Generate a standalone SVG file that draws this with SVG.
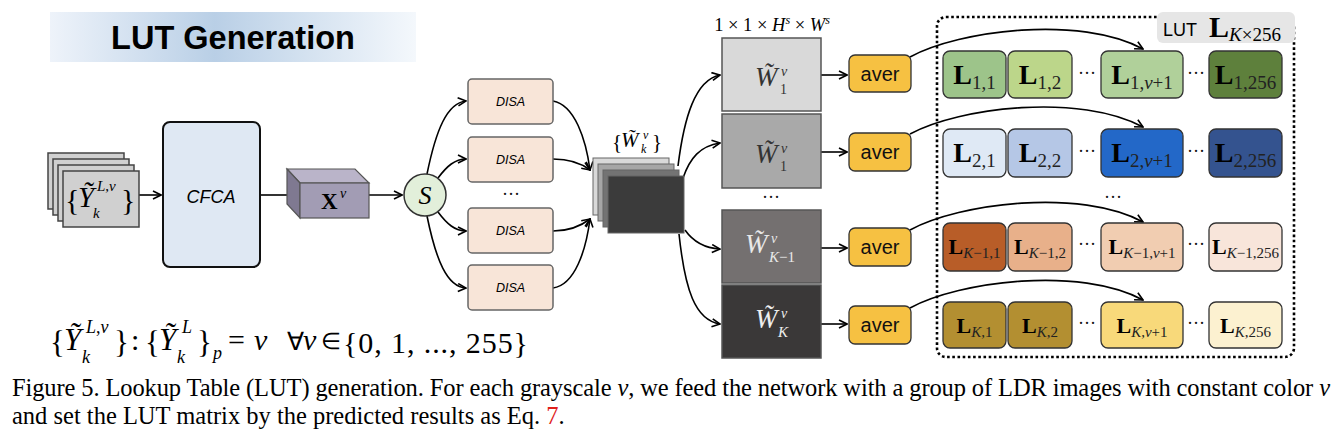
<svg xmlns="http://www.w3.org/2000/svg" width="1342" height="432" viewBox="0 0 1342 432">
<defs>
<linearGradient id="banner" x1="0" y1="0" x2="1" y2="0">
<stop offset="0" stop-color="#eef3fa"/>
<stop offset="0.45" stop-color="#b9cfe6"/>
<stop offset="1" stop-color="#f4f8fc"/>
</linearGradient>
<marker id="ah" viewBox="0 0 10 10" refX="9" refY="5" markerWidth="10" markerHeight="10" markerUnits="userSpaceOnUse" orient="auto">
<path d="M1,1 L9,5 L1,9" fill="none" stroke="#000" stroke-width="1.6"/>
</marker>
<style>
.sans{font-family:"Liberation Sans",Arial,sans-serif}
.ser{font-family:"Liberation Serif","Times New Roman",serif}
.it{font-style:italic}
.con{fill:none;stroke:#000;stroke-width:1.6}
.arr{marker-end:url(#ah)}
.disa{fill:#f8e5d8;stroke:#666;stroke-width:1.5}
.disat{font-family:"Liberation Sans",Arial,sans-serif;font-style:italic;font-size:12.5px;text-anchor:middle}
.wbox{stroke:#555;stroke-width:1.5}
.aver{fill:#f6c142;stroke:#333;stroke-width:1.3}
.avert{font-family:"Liberation Sans",Arial,sans-serif;font-size:20px;text-anchor:middle;fill:#111}
.cell{stroke:#333;stroke-width:1.3}
.lt{font-family:"Liberation Serif","Times New Roman",serif;text-anchor:middle;fill:#000}
.lb{font-weight:bold;font-size:28px}
.ls{font-size:19px;fill:#222}
.lb2{font-weight:bold;font-size:22px}
.ls2{font-size:15px;fill:#222}
.dots{font-family:"Liberation Serif",serif;font-size:18px;text-anchor:middle;fill:#111}
.stk{stroke:#444;stroke-width:1.5;fill:#d0d0d0}
.ws{stroke:#666;stroke-width:1}
</style>
</defs>
<rect width="1342" height="432" fill="#fff"/>

<g id="title">
<rect x="50" y="12" width="366" height="50" fill="url(#banner)"/>
<text x="233" y="49" class="sans" font-size="32.5" font-weight="bold" text-anchor="middle" fill="#000">LUT Generation</text>
</g>

<g id="connectors">
<path class="con arr" d="M139,195 H161"/>
<path class="con" d="M260,195 H292"/>
<path class="con arr" d="M369,195 H402"/>
<path class="con arr" d="M427,174 C436,130 447,103 466,101"/>
<path class="con arr" d="M438,178 C447,166 455,159 466,159"/>
<path class="con arr" d="M438,212 C447,224 455,231 466,231"/>
<path class="con arr" d="M427,216 C436,260 447,287 466,288"/>
<path class="con arr" d="M553,101 C575,105 586,140 590,170"/>
<path class="con arr" d="M553,159 C570,159 581,163 590,170"/>
<path class="con arr" d="M553,231 C570,231 581,226 590,219"/>
<path class="con arr" d="M553,288 C575,285 586,250 590,219"/>
<path class="con arr" d="M678,166 C684,118 695,80 720,75"/>
<path class="con arr" d="M683,178 C690,158 700,146 720,143"/>
<path class="con arr" d="M685,230 C692,240 702,248 720,249"/>
<path class="con arr" d="M679,234 C685,290 695,320 720,324"/>
<path class="con arr" d="M821,75 H847"/>
<path class="con arr" d="M821,152 H847"/>
<path class="con arr" d="M821,248 H847"/>
<path class="con arr" d="M821,324 H847"/>
<path class="con arr" d="M910,57 C960,30 1080,15 1143,49"/>
<path class="con arr" d="M910,134 C960,107 1080,93 1143,127"/>
<path class="con arr" d="M910,230 C960,203 1080,188 1143,222"/>
<path class="con arr" d="M910,308 C960,281 1080,266 1143,300"/>
</g>

<g id="input">
<rect class="stk" x="48" y="153" width="76" height="56"/>
<rect class="stk" x="53" y="159" width="76" height="56"/>
<rect class="stk" x="58" y="165" width="76" height="56"/>
<rect class="stk" x="63" y="171" width="76" height="56"/>
<g class="ser" fill="#000">
<text x="65" y="210" font-size="30">{</text>
<text x="78" y="207" font-size="29" class="it">Ỹ</text>
<text x="97" y="191" font-size="15"><tspan class="it">L</tspan>,<tspan class="it">v</tspan></text>
<text x="93" y="218" font-size="15" class="it">k</text>
<text x="121" y="210" font-size="30">}</text>
</g>
</g>

<g id="cfca">
<rect x="163" y="122" width="97" height="145" rx="7" fill="#dfe8f3" stroke="#111" stroke-width="2"/>
<text x="211" y="203" class="sans it" font-size="18" text-anchor="middle">CFCA</text>
</g>

<g id="xv">
<polygon points="287,169 355,169 369,183 300,183" fill="#bab4c9" stroke="#555" stroke-width="1.2"/>
<polygon points="287,169 300,183 300,218 287,204" fill="#7f7991" stroke="#555" stroke-width="1.2"/>
<rect x="300" y="183" width="69" height="35" fill="#a29cb4" stroke="#555" stroke-width="1.2"/>
<text x="321" y="209" class="ser" font-size="23" font-weight="bold">X</text>
<text x="340" y="198" class="ser it" font-size="14">v</text>
</g>

<g id="split">
<circle cx="425" cy="195" r="21" fill="#e2efda" stroke="#333" stroke-width="1.5"/>
<text x="425" y="204" class="ser it" font-size="26" text-anchor="middle">S</text>
</g>

<g id="disa1"><rect class="disa" x="468" y="79" width="85" height="45" rx="4"/><text class="disat" x="510.5" y="106">DISA</text></g>
<g id="disa2"><rect class="disa" x="468" y="137" width="85" height="45" rx="4"/><text class="disat" x="510.5" y="164">DISA</text></g>
<text class="dots" x="511" y="200">···</text>
<g id="disa3"><rect class="disa" x="468" y="208" width="85" height="45" rx="4"/><text class="disat" x="510.5" y="235">DISA</text></g>
<g id="disa4"><rect class="disa" x="468" y="265" width="85" height="45" rx="4"/><text class="disat" x="510.5" y="292">DISA</text></g>

<g id="wstack">
<rect class="ws" x="593" y="158" width="76" height="57" fill="#d9d9d9"/>
<rect class="ws" x="598" y="164" width="76" height="57" fill="#a6a6a6"/>
<rect class="ws" x="603" y="170" width="76" height="57" fill="#737373"/>
<rect class="ws" x="608" y="176" width="76" height="57" fill="#3b3b3b"/>
<g class="ser" fill="#000">
<text x="612" y="149" font-size="21">{</text>
<text x="621" y="147" font-size="21" class="it">W̃</text>
<text x="643" y="139" font-size="12" class="it">v</text>
<text x="641" y="153" font-size="12" class="it">k</text>
<text x="652" y="149" font-size="21">}</text>
</g>
</g>

<text x="772" y="31" class="ser" font-size="18.5" text-anchor="middle">1 × 1 × <tspan class="it">H</tspan><tspan font-size="12" class="it" dy="-7">s</tspan><tspan dy="7"> × </tspan><tspan class="it">W</tspan><tspan font-size="12" class="it" dy="-7">s</tspan></text>

<g id="w1">
<rect class="wbox" x="722" y="38" width="99" height="73" fill="#d9d9d9"/>
<g class="ser" fill="#333">
<text x="755" y="86" font-size="27" class="it">W̃</text>
<text x="781" y="76" font-size="14" class="it">v</text>
<text x="780" y="94" font-size="14">1</text>
</g>
</g>
<g id="w2">
<rect class="wbox" x="722" y="114" width="99" height="74" fill="#a9a9a9"/>
<g class="ser" fill="#333">
<text x="755" y="163" font-size="27" class="it">W̃</text>
<text x="781" y="153" font-size="14" class="it">v</text>
<text x="780" y="171" font-size="14">1</text>
</g>
</g>
<text class="dots" x="771" y="203">···</text>
<g id="w3">
<rect class="wbox" x="722" y="210" width="99" height="73" fill="#747070"/>
<g class="ser" fill="#e8e8e8">
<text x="745" y="253" font-size="27" class="it">W̃</text>
<text x="771" y="243" font-size="14" class="it">v</text>
<text x="769" y="262" font-size="15"><tspan class="it">K</tspan>−1</text>
</g>
</g>
<g id="w4">
<rect class="wbox" x="722" y="285" width="99" height="73" fill="#3a3838"/>
<g class="ser" fill="#eeeeee">
<text x="755" y="328" font-size="27" class="it">W̃</text>
<text x="781" y="318" font-size="14" class="it">v</text>
<text x="778" y="337" font-size="15" class="it">K</text>
</g>
</g>

<g id="aver1"><rect class="aver" x="849" y="55" width="62" height="37" rx="6"/><text class="avert" x="880" y="81">aver</text></g>
<g id="aver2"><rect class="aver" x="849" y="133" width="62" height="38" rx="6"/><text class="avert" x="880" y="159">aver</text></g>
<g id="aver3"><rect class="aver" x="849" y="228" width="62" height="38" rx="6"/><text class="avert" x="880" y="254">aver</text></g>
<g id="aver4"><rect class="aver" x="849" y="306" width="62" height="38" rx="6"/><text class="avert" x="880" y="332">aver</text></g>

<g id="lut">
<rect x="937" y="17" width="357" height="340" rx="9" fill="none" stroke="#000" stroke-width="2.6" stroke-dasharray="2.6 2.6"/>
<rect x="1157" y="12" width="138" height="31" rx="6" fill="#e6e6e6"/>
<text x="1163" y="36" class="sans" font-size="18">LUT</text>
<text x="1209" y="37" class="ser" font-size="30" font-weight="bold">L</text>
<text x="1229" y="41" class="ser" font-size="19"><tspan class="it">K</tspan>×256</text>
</g>

<g id="row1">
<rect class="cell" x="943" y="51" width="63" height="47" rx="7" fill="#9dc48a"/>
<rect class="cell" x="1008" y="51" width="64" height="47" rx="7" fill="#bcd68a"/>
<rect class="cell" x="1101" y="51" width="82" height="47" rx="7" fill="#b0d09a"/>
<rect class="cell" x="1209" y="51" width="73" height="47" rx="7" fill="#5e803c"/>
<text class="lt" x="974.5" y="84"><tspan class="lb">L</tspan><tspan class="ls" dy="5">1,1</tspan></text>
<text class="lt" x="1040" y="84"><tspan class="lb">L</tspan><tspan class="ls" dy="5">1,2</tspan></text>
<text class="lt" x="1142" y="84"><tspan class="lb">L</tspan><tspan class="ls" dy="5">1,<tspan class="it">v</tspan>+1</tspan></text>
<text class="lt" x="1245.5" y="84"><tspan class="lb">L</tspan><tspan class="ls" dy="5">1,256</tspan></text>
<text class="dots" x="1087" y="79">···</text>
<text class="dots" x="1196" y="79">···</text>
</g>
<g id="row2">
<rect class="cell" x="943" y="129" width="63" height="48" rx="7" fill="#dfe9f5"/>
<rect class="cell" x="1008" y="129" width="64" height="48" rx="7" fill="#b5c7e6"/>
<rect class="cell" x="1101" y="129" width="82" height="48" rx="7" fill="#2368c8"/>
<rect class="cell" x="1209" y="129" width="73" height="48" rx="7" fill="#34538f"/>
<text class="lt" x="974.5" y="162"><tspan class="lb">L</tspan><tspan class="ls" dy="5">2,1</tspan></text>
<text class="lt" x="1040" y="162"><tspan class="lb">L</tspan><tspan class="ls" dy="5">2,2</tspan></text>
<text class="lt" x="1142" y="162"><tspan class="lb">L</tspan><tspan class="ls" dy="5">2,<tspan class="it">v</tspan>+1</tspan></text>
<text class="lt" x="1245.5" y="162"><tspan class="lb">L</tspan><tspan class="ls" dy="5">2,256</tspan></text>
<text class="dots" x="1087" y="157">···</text>
<text class="dots" x="1196" y="157">···</text>
</g>
<text class="dots" x="1113" y="203">···</text>
<g id="row3">
<rect class="cell" x="943" y="223" width="63" height="48" rx="7" fill="#b85d28"/>
<rect class="cell" x="1008" y="223" width="64" height="48" rx="7" fill="#e8b08a"/>
<rect class="cell" x="1101" y="223" width="82" height="48" rx="7" fill="#f1cdb1"/>
<rect class="cell" x="1209" y="223" width="73" height="48" rx="7" fill="#f8e5da"/>
<text class="lt" x="974.5" y="254"><tspan class="lb2">L</tspan><tspan class="ls2" dy="4"><tspan class="it">K</tspan>−1,1</tspan></text>
<text class="lt" x="1040" y="254"><tspan class="lb2">L</tspan><tspan class="ls2" dy="4"><tspan class="it">K</tspan>−1,2</tspan></text>
<text class="lt" x="1142" y="254"><tspan class="lb2">L</tspan><tspan class="ls2" dy="4"><tspan class="it">K</tspan>−1,<tspan class="it">v</tspan>+1</tspan></text>
<text class="lt" x="1245.5" y="254"><tspan class="lb2">L</tspan><tspan class="ls2" dy="4"><tspan class="it">K</tspan>−1,256</tspan></text>
<text class="dots" x="1087" y="250">···</text>
<text class="dots" x="1196" y="250">···</text>
</g>
<g id="row4">
<rect class="cell" x="943" y="302" width="63" height="46" rx="7" fill="#b38f31"/>
<rect class="cell" x="1008" y="302" width="64" height="46" rx="7" fill="#b38f31"/>
<rect class="cell" x="1101" y="302" width="82" height="46" rx="7" fill="#f8d97a"/>
<rect class="cell" x="1209" y="302" width="73" height="46" rx="7" fill="#fcf1d0"/>
<text class="lt" x="974.5" y="333"><tspan class="lb2">L</tspan><tspan class="ls2" dy="4"><tspan class="it">K</tspan>,1</tspan></text>
<text class="lt" x="1040" y="333"><tspan class="lb2">L</tspan><tspan class="ls2" dy="4"><tspan class="it">K</tspan>,2</tspan></text>
<text class="lt" x="1142" y="333"><tspan class="lb2">L</tspan><tspan class="ls2" dy="4"><tspan class="it">K</tspan>,<tspan class="it">v</tspan>+1</tspan></text>
<text class="lt" x="1245.5" y="333"><tspan class="lb2">L</tspan><tspan class="ls2" dy="4"><tspan class="it">K</tspan>,256</tspan></text>
<text class="dots" x="1087" y="329">···</text>
<text class="dots" x="1196" y="329">···</text>
</g>

<g id="formula" class="ser" fill="#000">
<text x="50" y="353" font-size="31">{</text>
<text x="64" y="350" font-size="31" class="it">Ỹ</text>
<text x="86" y="333" font-size="18"><tspan class="it">L</tspan>,<tspan class="it">v</tspan></text>
<text x="82" y="363" font-size="18" class="it">k</text>
<text x="114" y="353" font-size="31">}</text>
<text x="131" y="350" font-size="30">:</text>
<text x="145" y="353" font-size="31">{</text>
<text x="159" y="350" font-size="31" class="it">Ỹ</text>
<text x="182" y="333" font-size="18" class="it">L</text>
<text x="177" y="363" font-size="18" class="it">k</text>
<text x="197" y="353" font-size="31">}</text>
<text x="213" y="359" font-size="18" class="it">p</text>
<text x="228" y="350" font-size="30">=</text>
<text x="254" y="350" font-size="30" class="it">v</text>
<text x="287" y="350" font-size="25">∀</text>
<text x="303" y="350" font-size="30" class="it">v</text>
<text x="321" y="349" font-size="23">∈</text>
<text x="343" y="353" font-size="30" textLength="185" lengthAdjust="spacing">{0, 1, ..., 255}</text>
</g>

<g id="caption" class="ser" fill="#000">
<text x="12" y="396" font-size="24.5" textLength="1318" lengthAdjust="spacing">Figure 5. Lookup Table (LUT) generation. For each grayscale <tspan class="it">v</tspan>, we feed the network with a group of LDR images with constant color <tspan class="it">v</tspan></text>
<text x="12" y="424" font-size="24.5">and set the LUT matrix by the predicted results as Eq. <tspan fill="#e0201b">7</tspan>.</text>
</g>
</svg>
